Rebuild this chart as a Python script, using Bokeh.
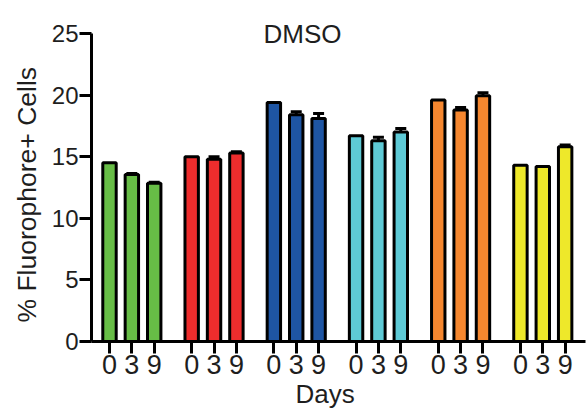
from bokeh.plotting import figure
from bokeh.models import ColumnDataSource, FixedTicker, Whisker, TeeHead, Label, Range1d, Title
from bokeh.embed import file_html
from bokeh.resources import INLINE

# ---- data ----
days = ["0", "3", "9"]
groups = ["green", "red", "blue", "cyan", "orange", "yellow"]
colors = ["#67bd46", "#ee2d2d", "#1e55a3", "#5ecad6", "#f6872f", "#eee82a"]

green = [14.5, 13.55, 12.85]
red = [15.0, 14.8, 15.3]
blue = [19.4, 18.4, 18.1]
cyan = [16.7, 16.3, 17.0]
orange = [19.6, 18.8, 19.95]
yellow = [14.3, 14.2, 15.8]

green_err = [0.0, 0.08, 0.08]
red_err = [0.0, 0.2, 0.1]
blue_err = [0.0, 0.25, 0.4]
cyan_err = [0.0, 0.28, 0.3]
orange_err = [0.0, 0.2, 0.25]
yellow_err = [0.0, 0.0, 0.15]

y_ticks = [0, 5, 10, 15, 20, 25]

values = [green, red, blue, cyan, orange, yellow]
errors = [green_err, red_err, blue_err, cyan_err, orange_err, yellow_err]

# ---- layout ----
group_step = 3.676
FONT = "Liberation Sans"
TXT = "#1e1e1e"

xs, tops, fills, labels = [], [], [], []
ex, eu, el = [], [], []
for g, (vals, errs) in enumerate(zip(values, errors)):
    for i, (v, e) in enumerate(zip(vals, errs)):
        x = g * group_step + i
        xs.append(x)
        tops.append(v)
        fills.append(colors[g])
        labels.append(days[i])
        if e > 0:
            ex.append(x)
            eu.append(v + e)
            el.append(v - e)

src = ColumnDataSource(dict(x=xs, top=tops, fill=fills))
esrc = ColumnDataSource(dict(x=ex, upper=eu, lower=el))

p = figure(width=586, height=412, output_backend="svg", toolbar_location=None,
           x_range=Range1d(-0.805, 21.29), y_range=Range1d(0, 27.68),
           min_border_left=91, min_border_right=1, min_border_top=0, min_border_bottom=71)
p.outline_line_color = None
p.xgrid.grid_line_color = None
p.ygrid.grid_line_color = None
p.background_fill_color = "white"

p.vbar(x="x", top="top", bottom=0, width=0.6, fill_color="fill", line_color="black",
       line_width=3, source=src)

w = Whisker(source=esrc, base="x", upper="upper", lower="lower", line_width=3, line_color="black",
            upper_head=TeeHead(size=11, line_width=3, line_color="black"),
            lower_head=TeeHead(size=11, line_width=3, line_color="black"))
p.add_layout(w)

# x axis
p.xaxis.ticker = FixedTicker(ticks=xs)
p.xaxis.major_label_overrides = {x: l for x, l in zip(xs, labels)}
p.xaxis.axis_line_width = 3
p.xaxis.major_tick_line_width = 3
p.xaxis.major_tick_out = 12
p.xaxis.major_tick_in = 0
p.xaxis.minor_tick_line_color = None
p.xaxis.major_label_text_font = FONT
p.xaxis.major_label_text_font_size = "27px"
p.xaxis.major_label_text_color = TXT
p.xaxis.major_label_standoff = 1

# y axis
p.yaxis.ticker = FixedTicker(ticks=y_ticks)
p.yaxis.bounds = (0, 25)
p.yaxis.axis_line_width = 3
p.yaxis.major_tick_line_width = 3
p.yaxis.major_tick_out = 12
p.yaxis.major_tick_in = 0
p.yaxis.minor_tick_line_color = None
p.yaxis.major_label_text_font = FONT
p.yaxis.major_label_text_font_size = "24px"
p.yaxis.major_label_text_color = TXT
p.yaxis.major_label_standoff = 1

# axis titles placed as side titles for exact positioning
ylab = Title(text="% Fluorophore+ Cells", align="left", offset=19, standoff=13,
             text_font=FONT, text_font_size="26.5px", text_font_style="normal", text_color=TXT)
p.add_layout(ylab, "left")
xlab = Title(text="Days", align="left", offset=204, standoff=0,
             text_font=FONT, text_font_size="26px", text_font_style="normal", text_color=TXT)
p.add_layout(xlab, "below")

p.add_layout(Label(x=8.63, y=25, text="DMSO", text_align="center", text_baseline="alphabetic",
                   text_font=FONT, text_font_size="26px", text_color=TXT))

open("out.html", "w").write(file_html(p, INLINE))
